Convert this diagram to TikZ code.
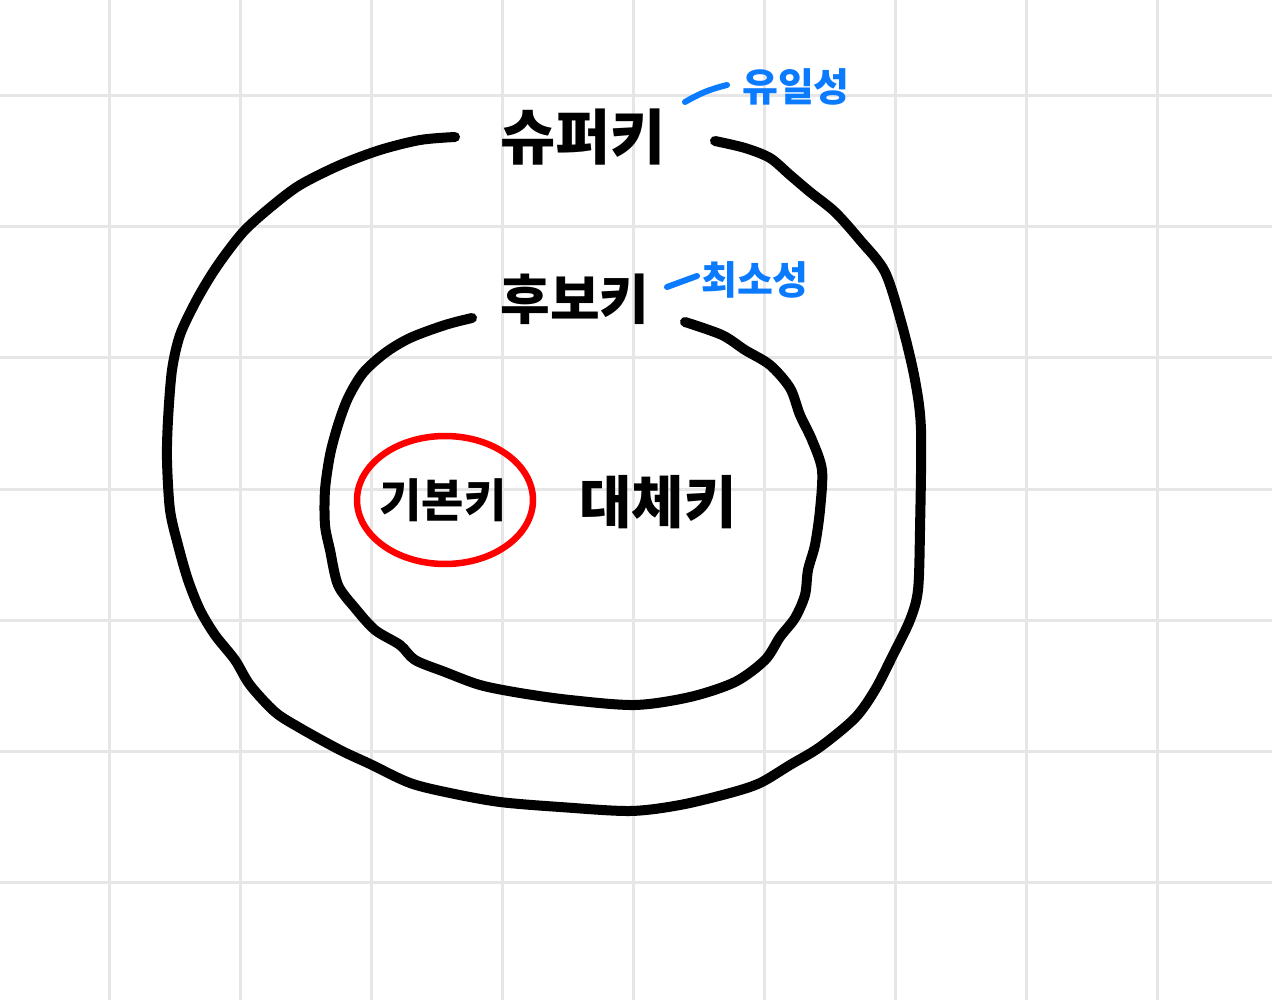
\documentclass[tikz,border=0pt]{standalone}
\usepackage{fontspec}
\usetikzlibrary{shapes.geometric}
\newfontfamily\kr{Noto Sans CJK KR}
\definecolor{gridgray}{HTML}{E6E6E6}
\definecolor{penblue}{HTML}{0A7AFF}
\definecolor{penred}{HTML}{FF0000}
\begin{document}
\begin{tikzpicture}[x=1pt,y=-1pt,
  gridline/.style={draw=gridgray,line width=3pt},
  ring/.style={draw=black,line width=10pt,line cap=round,line join=round},
  pkring/.style={draw=penred,line width=6.5pt},
  lbl/.style={text=black,inner sep=0pt},
  note/.style={text=penblue,inner sep=0pt},
  tick/.style={draw=penblue,line width=6pt,line cap=round}]
\useasboundingbox[fill=white] (0,0) rectangle (1272,1000);
% grid
\foreach \gx in {109,240,371,502,633,764,895,1026,1157}
  \draw[gridline] (\gx,0) -- (\gx,1000);
\foreach \gy in {96,227,358,489,620,751,882}
  \draw[gridline] (0,\gy) -- (1272,\gy);
% outer ring
\draw[ring] plot[smooth,tension=0.5] coordinates {
 (455,137) (420,140) (380,150) (340,165) (300,185) (272,206) (245,230) (225,255)
 (210,277) (195,303) (180,335) (172,370) (168,420) (167,460) (170,510) (178,545)
 (188,580) (200,610) (215,635) (235,660) (250,685) (275,712) (300,728) (340,750)
 (370,764) (410,783) (450,793) (500,802) (560,807) (630,811) (680,805) (730,793)
 (760,783) (790,765) (820,747) (855,718) (875,690) (893,655) (910,620) (918,590)
 (920,530) (921,430) (915,380) (902,325) (885,272) (860,240) (835,212) (810,192)
 (790,175) (770,158) (745,148) (715,141)};
% inner ring
\draw[ring] plot[smooth,tension=0.5] coordinates {
 (472,318) (445,325) (410,338) (385,353) (363,373) (348,398) (338,425) (330,455)
 (325,490) (325,525) (330,550) (338,585) (355,608) (375,630) (400,645) (415,660)
 (445,672) (480,685) (520,693) (570,700) (635,705) (690,697) (735,682) (765,660)
 (780,637) (795,618) (805,595) (808,570) (815,545) (820,510) (822,470) (812,440)
 (800,415) (790,388) (770,365) (745,350) (722,335) (685,322)};
% labels
\node[lbl,font=\kr\bfseries\fontsize{60}{64}\selectfont] (super) at (583,137) {슈퍼키};
\node[lbl,font=\kr\bfseries\fontsize{54}{58}\selectfont] (cand) at (575,299) {후보키};
\node[lbl,font=\kr\bfseries\fontsize{46}{50}\selectfont] (pk) at (443,500) {기본키};
\node[lbl,font=\kr\bfseries\fontsize{57}{61}\selectfont] (alt) at (658,502) {대체키};
\node[pkring,ellipse,minimum width=176pt,minimum height=128pt,inner sep=0pt] (pkcircle) at (445,500) {};
% blue notes
\node[note,font=\kr\bfseries\fontsize{39}{43}\selectfont] (uniq) at (796,87) {유일성};
\node[note,font=\kr\bfseries\fontsize{39}{43}\selectfont] (mini) at (755,280) {최소성};
\coordinate (t1a) at (685,102);
\coordinate (t1b) at (727,85);
\coordinate (t2a) at (667,287);
\coordinate (t2b) at (697,276);
\draw[tick] (t1a) to[bend left=8] (t1b);
\draw[tick] (t2a) -- (t2b);
\end{tikzpicture}
\end{document}
